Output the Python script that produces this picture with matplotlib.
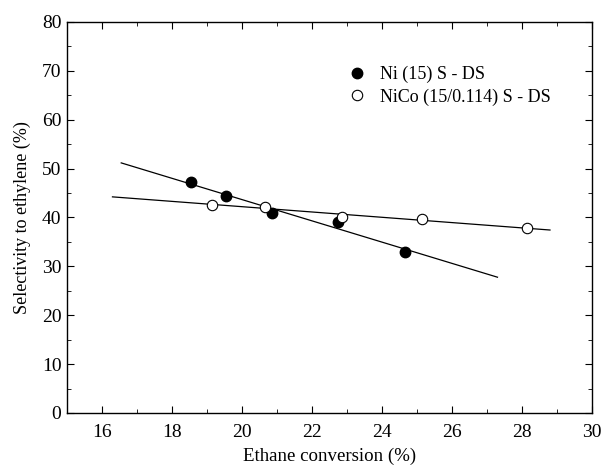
import numpy as np
import matplotlib
matplotlib.use("Agg")
import matplotlib.pyplot as plt
from matplotlib.ticker import MultipleLocator

# Data
ni_x = [18.55, 19.55, 20.85, 22.75, 24.65]
ni_y = [47.2, 44.3, 41.0, 39.0, 33.0]
nico_x = [19.15, 20.65, 22.85, 25.15, 28.15]
nico_y = [42.6, 42.2, 40.2, 39.6, 37.8]
ni_fit_range = [16.55, 27.3]
nico_fit_range = [16.3, 28.8]
ni_label = "Ni (15) S - DS"
nico_label = "NiCo (15/0.114) S - DS"

plt.rcParams['font.family'] = ['Liberation Serif', 'DejaVu Serif']

fig = plt.figure(figsize=(6.05, 4.76), dpi=100)
ax = fig.add_axes([0.1107, 0.1324, 0.8678, 0.8214])

# fitted lines
for xs, ys, rng in [(ni_x, ni_y, ni_fit_range), (nico_x, nico_y, nico_fit_range)]:
    p = np.polyfit(xs, ys, 1)
    xx = np.array(rng)
    ax.plot(xx, np.polyval(p, xx), color='black', lw=0.9, zorder=2)

ax.plot(ni_x, ni_y, 'o', ms=7.5, mfc='black', mec='black', ls='none', label=ni_label, zorder=3)
ax.plot(nico_x, nico_y, 'o', ms=7.5, mfc='white', mec='black', mew=0.8, ls='none', label=nico_label, zorder=3)

ax.set_xlim(15, 30)
ax.set_ylim(0, 80)
ax.set_xticks(range(16, 31, 2))
ax.xaxis.set_minor_locator(MultipleLocator(1))
ax.yaxis.set_major_locator(MultipleLocator(10))
ax.yaxis.set_minor_locator(MultipleLocator(5))
ax.tick_params(which='both', direction='in', labelsize=14)
ax.tick_params(axis='x', which='major', length=5, width=0.8, pad=8)
ax.tick_params(axis='y', which='major', length=5, width=0.8, pad=4)
ax.tick_params(which='minor', length=3, width=0.6)
ax.tick_params(which='both', top=True, right=True)
for s in ax.spines.values():
    s.set_linewidth(1.0)

ax.set_xlabel('Ethane conversion (%)', fontsize=13.6, labelpad=5)
ax.set_ylabel('Selectivity to ethylene (%)', fontsize=13, labelpad=8)

leg = ax.legend(loc='upper left', bbox_to_anchor=(0.5, 0.93), frameon=False,
                fontsize=13, handletextpad=0.7, labelspacing=0.3, handlelength=1.2)

fig.savefig('out.png', dpi=100)
